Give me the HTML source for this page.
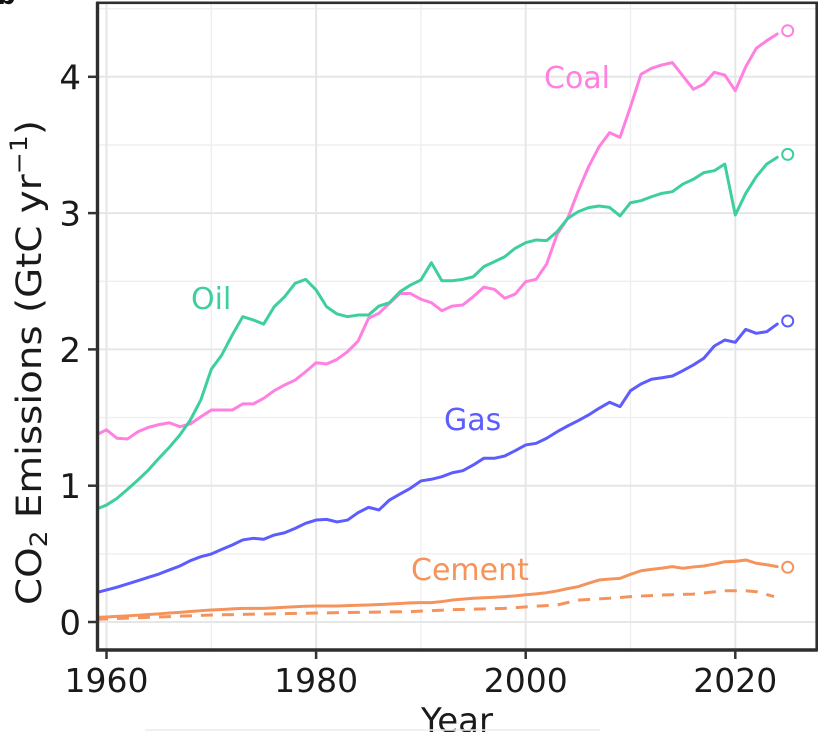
<!DOCTYPE html>
<html><head><meta charset="utf-8"><style>
html,body{margin:0;padding:0;background:#fff;}
svg{display:block;}
text{font-family:"DejaVu Sans","Liberation Sans",sans-serif;}
</style></head><body>
<svg width="834" height="732" viewBox="0 0 834 732" xmlns="http://www.w3.org/2000/svg">
<defs><clipPath id="pc"><rect x="97.5" y="2.8" width="719.2" height="647.2"/></clipPath></defs>
<rect width="834" height="732" fill="#fff"/>
<text x="-3" y="4" font-size="26" font-weight="bold" fill="#111">b</text>
<g stroke="#efefef" stroke-width="1.4">
<line x1="97.5" x2="816.7" y1="553.9" y2="553.9"/><line x1="97.5" x2="816.7" y1="417.6" y2="417.6"/><line x1="97.5" x2="816.7" y1="281.3" y2="281.3"/><line x1="97.5" x2="816.7" y1="145" y2="145"/><line x1="97.5" x2="816.7" y1="8.7" y2="8.7"/>
<line y1="2.8" y2="650" x1="211.3" x2="211.3"/><line y1="2.8" y2="650" x1="420.9" x2="420.9"/><line y1="2.8" y2="650" x1="630.5" x2="630.5"/>
</g>
<g stroke="#e6e6e6" stroke-width="2">
<line x1="97.5" x2="816.7" y1="622" y2="622"/><line x1="97.5" x2="816.7" y1="485.7" y2="485.7"/><line x1="97.5" x2="816.7" y1="349.4" y2="349.4"/><line x1="97.5" x2="816.7" y1="213.1" y2="213.1"/><line x1="97.5" x2="816.7" y1="76.8" y2="76.8"/>
<line y1="2.8" y2="650" x1="106.5" x2="106.5"/><line y1="2.8" y2="650" x1="316.1" x2="316.1"/><line y1="2.8" y2="650" x1="525.7" x2="525.7"/><line y1="2.8" y2="650" x1="735.3" x2="735.3"/>
</g>
<g clip-path="url(#pc)">
<g transform="translate(106.5,622) scale(10.48,-136.3)" fill="none" stroke-width="3" stroke-linejoin="round" stroke-linecap="round">
<polyline vector-effect="non-scaling-stroke" stroke="#ff80e0" points="-1,1.372 0,1.41 1,1.348 2,1.343 3,1.396 4,1.428 5,1.448 6,1.462 7,1.433 8,1.453 9,1.506 10,1.555 11,1.555 12,1.555 13,1.6 14,1.6 15,1.641 16,1.697 17,1.739 18,1.775 19,1.836 20,1.902 21,1.893 22,1.927 23,1.983 24,2.06 25,2.228 26,2.265 27,2.338 28,2.41 29,2.41 30,2.368 31,2.343 32,2.284 33,2.318 34,2.326 35,2.387 36,2.456 37,2.441 38,2.375 39,2.406 40,2.497 41,2.514 42,2.627 43,2.845 44,2.96 45,3.16 46,3.34 47,3.487 48,3.59 49,3.556 50,3.78 51,4.018 52,4.062 53,4.087 54,4.104 55,4.006 56,3.908 57,3.947 58,4.033 59,4.013 60,3.898 61,4.074 62,4.209 63,4.265 64,4.314"/>
<polyline vector-effect="non-scaling-stroke" stroke="#3ecf9d" points="-1,0.827 0,0.858 1,0.907 2,0.973 3,1.042 4,1.115 5,1.201 6,1.282 7,1.372 8,1.482 9,1.629 10,1.854 11,1.959 12,2.106 13,2.24 14,2.216 15,2.186 16,2.313 17,2.387 18,2.485 19,2.514 20,2.436 21,2.313 22,2.26 23,2.24 24,2.252 25,2.252 26,2.318 27,2.343 28,2.423 29,2.472 30,2.509 31,2.636 32,2.504 33,2.504 34,2.514 35,2.533 36,2.607 37,2.643 38,2.68 39,2.742 40,2.783 41,2.803 42,2.798 43,2.864 44,2.96 45,3.01 46,3.04 47,3.052 48,3.042 49,2.979 50,3.076 51,3.091 52,3.12 53,3.145 54,3.157 55,3.213 56,3.248 57,3.297 58,3.311 59,3.36 60,2.986 61,3.145 62,3.267 63,3.36 64,3.409"/>
<polyline vector-effect="non-scaling-stroke" stroke="#5c5cff" points="-1,0.215 0,0.235 1,0.255 2,0.279 3,0.303 4,0.328 5,0.352 6,0.382 7,0.411 8,0.45 9,0.479 10,0.499 11,0.533 12,0.565 13,0.602 14,0.614 15,0.607 16,0.638 17,0.655 18,0.687 19,0.724 20,0.748 21,0.753 22,0.734 23,0.748 24,0.802 25,0.841 26,0.822 27,0.895 28,0.939 29,0.981 30,1.035 31,1.047 32,1.066 33,1.095 34,1.11 35,1.152 36,1.201 37,1.201 38,1.218 39,1.257 40,1.299 41,1.311 42,1.348 43,1.396 44,1.438 45,1.477 46,1.519 47,1.568 48,1.612 49,1.58 50,1.697 51,1.746 52,1.781 53,1.792 54,1.805 55,1.844 56,1.886 57,1.935 58,2.025 59,2.069 60,2.052 61,2.147 62,2.118 63,2.13 64,2.186"/>
<polyline vector-effect="non-scaling-stroke" stroke="#f5935c" points="-1,0.034 0,0.037 1,0.041 2,0.045 3,0.05 4,0.055 5,0.06 6,0.066 7,0.071 8,0.077 9,0.083 10,0.088 11,0.092 12,0.096 13,0.1 14,0.1 15,0.1 16,0.104 17,0.108 18,0.112 19,0.116 20,0.117 21,0.117 22,0.117 23,0.12 24,0.123 25,0.125 26,0.128 27,0.132 28,0.136 29,0.14 30,0.142 31,0.142 32,0.15 33,0.161 34,0.168 35,0.174 36,0.178 37,0.182 38,0.186 39,0.192 40,0.2 41,0.206 42,0.215 43,0.228 44,0.245 45,0.259 46,0.285 47,0.308 48,0.315 49,0.32 50,0.35 51,0.376 52,0.386 53,0.395 54,0.406 55,0.394 56,0.404 57,0.411 58,0.425 59,0.442 60,0.445 61,0.455 62,0.431 63,0.42 64,0.406"/>
</g>
<polyline fill="none" stroke="#f5935c" stroke-width="3" stroke-dasharray="12 9" points="96,619.3 211.3,615 316.1,613 410.4,611.6 452.3,609.7 504.7,608.4 536.2,606.1 557.1,605 578.1,600.1 609.5,598.3 630.5,596.6 661.9,595 693.3,594.1 724.8,590.7 745.8,590.7 756.3,591.7 774,596.6"/>
</g>
<g fill="#fff" stroke-width="2">
<circle cx="787.7" cy="30.7" r="5.5" stroke="#ff80e0"/>
<circle cx="787.7" cy="154.4" r="5.5" stroke="#3ecf9d"/>
<circle cx="787.7" cy="321" r="5.5" stroke="#5c5cff"/>
<circle cx="787.7" cy="567.3" r="5.5" stroke="#f5935c"/>
</g>
<text x="544" y="88" font-size="30" fill="#ff80e0">Coal</text>
<text x="191" y="309" font-size="30" fill="#3ecf9d">Oil</text>
<text x="444" y="430" font-size="30" fill="#5c5cff">Gas</text>
<text x="411" y="580" font-size="30" fill="#f5935c">Cement</text>
<rect x="97.5" y="2.8" width="719.2" height="647.2" fill="none" stroke="#2e2e2e" stroke-width="2.6"/>
<line x1="97.5" y1="2" x2="97.5" y2="651.5" stroke="#2e2e2e" stroke-width="3.4"/>
<line x1="96" y1="650" x2="817.5" y2="650" stroke="#2e2e2e" stroke-width="3.4"/>
<g stroke="#333" stroke-width="2.5">
<line x1="88" x2="97" y1="622" y2="622"/><line x1="88" x2="97" y1="485.7" y2="485.7"/><line x1="88" x2="97" y1="349.4" y2="349.4"/><line x1="88" x2="97" y1="213.1" y2="213.1"/><line x1="88" x2="97" y1="76.8" y2="76.8"/>
<line y1="650" y2="659" x1="106.5" x2="106.5"/><line y1="650" y2="659" x1="316.1" x2="316.1"/><line y1="650" y2="659" x1="525.7" x2="525.7"/><line y1="650" y2="659" x1="735.3" x2="735.3"/>
</g>
<g font-size="34" fill="#1a1a1a" text-anchor="end">
<text x="81" y="634.5">0</text><text x="81" y="498.2">1</text><text x="81" y="361.9">2</text><text x="81" y="225.6">3</text><text x="81" y="89.3">4</text>
</g>
<g font-size="33" fill="#1a1a1a" text-anchor="middle">
<text x="106.5" y="692">1960</text><text x="316.1" y="692">1980</text><text x="525.7" y="692">2000</text><text x="735.3" y="692">2020</text>
</g>
<text x="457" y="732" font-size="34" fill="#1a1a1a" text-anchor="middle">Year</text>
<text transform="translate(41,362.5) rotate(-90)" font-size="35" fill="#1a1a1a" text-anchor="middle" textLength="485" lengthAdjust="spacingAndGlyphs">CO<tspan font-size="24" baseline-shift="-6">2</tspan> Emissions (GtC yr<tspan font-size="24" baseline-shift="14">−1</tspan>)</text>
<line x1="145" y1="730" x2="600" y2="730" stroke="#ececec" stroke-width="1.5"/>
</svg>
</body></html>
